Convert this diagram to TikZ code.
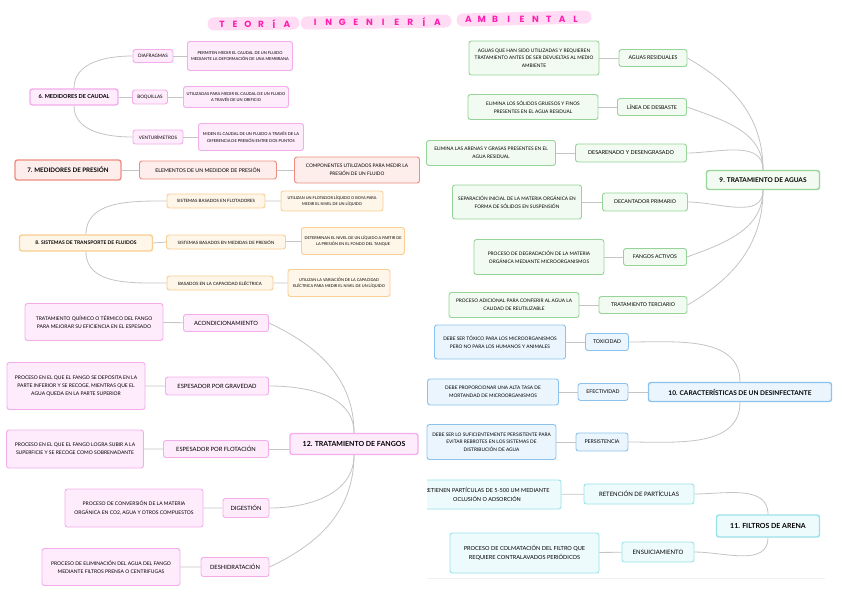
\documentclass[tikz,border=0pt]{standalone}
\usepackage{fontspec}
\setmainfont{Lato}
\newfontfamily\titlefont{Poppins}
\usetikzlibrary{positioning}

\definecolor{linkgray}{HTML}{C4C4C4}
\definecolor{pinkline}{HTML}{F3ADEB}
\definecolor{pinkfill}{HTML}{FEEBFC}
\definecolor{coralline}{HTML}{EE8C82}
\definecolor{coralfill}{HTML}{FDEEEC}
\definecolor{orangeline}{HTML}{F8CE92}
\definecolor{orangefill}{HTML}{FFF6EA}
\definecolor{greenline}{HTML}{96D497}
\definecolor{greenfill}{HTML}{F2FBF2}
\definecolor{blueline}{HTML}{8CC2EE}
\definecolor{bluefill}{HTML}{EBF5FD}
\definecolor{cyanline}{HTML}{98E2EA}
\definecolor{cyanfill}{HTML}{EEFBFC}
\definecolor{titleink}{HTML}{FF1FAE}
\definecolor{titlehl}{HTML}{FFC4EE}

\tikzset{
  box/.style={rounded corners=2.5pt, line width=0.9pt, align=center, inner sep=0pt},
  sz/.style 2 args={minimum width=#1, minimum height=#2},
  ft/.style 2 args={font=\fontsize{#1}{#2}\selectfont},
  ftb/.style 2 args={font=\fontsize{#1}{#2}\selectfont\bfseries},
  rootbox/.style={line width=1.4pt},
  pinkbox/.style={box, draw=pinkline, fill=pinkfill},
  coralbox/.style={box, draw=coralline, fill=coralfill},
  orangebox/.style={box, draw=orangeline, fill=orangefill},
  greenbox/.style={box, draw=greenline, fill=greenfill},
  bluebox/.style={box, draw=blueline, fill=bluefill},
  cyanbox/.style={box, draw=cyanline, fill=cyanfill},
  link/.style={draw=linkgray, line width=0.8pt},
  titlech/.style={text=titleink, font=\titlefont\bfseries\fontsize{9}{9}\selectfont, inner sep=0pt},
  hilite/.style={draw=titlehl, line width=13pt, line cap=round, opacity=0.6}
}

\begin{document}
\begin{tikzpicture}[x=1pt, y=-1pt]
\useasboundingbox[fill=white] (0,0) rectangle (848,599);

\draw[hilite] (214,24) -- (293,23);
\draw[hilite] (307,23) -- (445,21);
\draw[hilite] (463,20) -- (585,17);
\foreach \ch [count=\i] in {T,E,O,R,Í,A}
  \node[titlech] (ta\i) at ({209+13*\i},24) {\ch};
\foreach \ch [count=\i] in {I,N,G,E,N,I,E,R,Í,A}
  \node[titlech] (tb\i) at ({301.5+13.6*\i},22) {\ch};
\foreach \ch [count=\i] in {A,M,B,I,E,N,T,A,L}
  \node[titlech] (tc\i) at ({455+13.4*\i},19) {\ch};

% 6
\node[pinkbox, rootbox, sz={88}{16}, ftb={5.5}{7}] (r6) at (74,97) {6. MEDIDORES DE CAUDAL};
\node[pinkbox, sz={40}{13}, ft={4.6}{6}] (c6a) at (153,56) {DIAFRAGMAS};
\node[pinkbox, sz={105}{29}, ft={4}{6.6}] (d6a) at (240,56) {PERMITEN MEDIR EL CAUDAL DE UN FLUIDO\\MEDIANTE LA DEFORMACIÓN DE UNA MEMBRANA};
\node[pinkbox, sz={35}{14}, ft={4.6}{6}] (c6b) at (150,97) {BOQUILLAS};
\node[pinkbox, sz={105}{21}, ft={4}{6.6}] (d6b) at (236,97) {UTILIZADAS PARA MEDIR EL CAUDAL DE UN FLUIDO\\A TRAVÉS DE UN ORIFICIO};
\node[pinkbox, sz={50}{14}, ft={4.6}{6}] (c6c) at (158,137) {VENTURÍMETROS};
\node[pinkbox, sz={105}{27}, ft={4}{6.6}] (d6c) at (251,137) {MIDEN EL CAUDAL DE UN FLUIDO A TRAVÉS DE LA\\DIFERENCIA DE PRESIÓN ENTRE DOS PUNTOS};
\draw[link] (r6.north) to[out=90, in=180] (c6a.west);
\draw[link] (r6.east) -- (c6b.west);
\draw[link] (r6.south) to[out=-90, in=180] (c6c.west);
\draw[link] (c6a) -- (d6a) (c6b) -- (d6b) (c6c) -- (d6c);

% 7
\node[coralbox, rootbox, sz={106}{20}, ftb={6.2}{8}] (r7) at (68,170) {7. MEDIDORES DE PRESIÓN};
\node[coralbox, sz={137}{18}, ft={5.2}{7}] (c7) at (208,170) {ELEMENTOS DE UN MEDIDOR DE PRESIÓN};
\node[coralbox, sz={125}{26}, ft={4.8}{7.6}] (d7) at (357,170) {COMPONENTES UTILIZADOS PARA MEDIR LA\\PRESIÓN DE UN FLUIDO};
\draw[link] (r7) -- (c7) (c7) -- (d7);

% 8
\node[orangebox, rootbox, sz={133}{16}, ftb={5}{6.5}] (r8) at (86,243) {8. SISTEMAS DE TRANSPORTE DE FLUIDOS};
\node[orangebox, sz={98}{14}, ft={4.4}{6}] (c8a) at (216,201) {SISTEMAS BASADOS EN FLOTADORES};
\node[orangebox, sz={102}{20}, ft={3.9}{6.3}] (d8a) at (332,201) {UTILIZAN UN FLOTADOR LÍQUIDO O BOYA PARA\\MEDIR EL NIVEL DE UN LÍQUIDO};
\node[orangebox, sz={119}{14}, ft={4.4}{6}] (c8b) at (226,242) {SISTEMAS BASADOS EN MEDIDAS DE PRESIÓN};
\node[orangebox, sz={103}{27}, ft={3.9}{6.3}] (d8b) at (353,241) {DETERMINAN EL NIVEL DE UN LÍQUIDO A PARTIR DE\\LA PRESIÓN EN EL FONDO DEL TANQUE};
\node[orangebox, sz={106}{14}, ft={4.4}{6}] (c8c) at (220,283) {BASADOS EN LA CAPACIDAD ELÉCTRICA};
\node[orangebox, sz={102}{27}, ft={3.9}{6.3}] (d8c) at (339,283) {UTILIZAN LA VARIACIÓN DE LA CAPACIDAD\\ELÉCTRICA PARA MEDIR EL NIVEL DE UN LÍQUIDO};
\draw[link] (r8.north) to[out=90, in=180] (c8a.west);
\draw[link] (r8.east) -- (c8b.west);
\draw[link] (r8.south) to[out=-90, in=180] (c8c.west);
\draw[link] (c8a) -- (d8a) (c8b) -- (d8b) (c8c) -- (d8c);

% 12
\node[pinkbox, rootbox, sz={128}{21}, ftb={7}{9}] (r12) at (354,444) {12. TRATAMIENTO DE FANGOS};
\node[pinkbox, sz={85}{17}, ft={5.8}{7.5}] (c12a) at (226,323) {ACONDICIONAMIENTO};
\node[pinkbox, sz={138}{37}, ft={5}{8.2}] (d12a) at (94,322) {TRATAMIENTO QUÍMICO O TÉRMICO DEL FANGO\\PARA MEJORAR SU EFICIENCIA EN EL ESPESADO};
\node[pinkbox, sz={103}{18}, ft={5.8}{7.5}] (c12b) at (217,386) {ESPESADOR POR GRAVEDAD};
\node[pinkbox, sz={138}{47}, ft={5}{8.2}] (d12b) at (76,386) {PROCESO EN EL QUE EL FANGO SE DEPOSITA EN LA\\PARTE INFERIOR Y SE RECOGE, MIENTRAS QUE EL\\AGUA QUEDA EN LA PARTE SUPERIOR};
\node[pinkbox, sz={105}{17}, ft={5.8}{7.5}] (c12c) at (216,449) {ESPESADOR POR FLOTACIÓN};
\node[pinkbox, sz={137}{38}, ft={5}{8.2}] (d12c) at (75,449) {PROCESO EN EL QUE EL FANGO LOGRA SUBIR A LA\\SUPERFICIE Y SE RECOGE COMO SOBRENADANTE};
\node[pinkbox, sz={46}{19}, ft={5.8}{7.5}] (c12d) at (246,508) {DIGESTIÓN};
\node[pinkbox, sz={138}{38}, ft={5}{8.2}] (d12d) at (134,508) {PROCESO DE CONVERSIÓN DE LA MATERIA\\ORGÁNICA EN CO2, AGUA Y OTROS COMPUESTOS};
\node[pinkbox, sz={68}{19}, ft={5.8}{7.5}] (c12e) at (235,567) {DESHIDRATACIÓN};
\node[pinkbox, sz={138}{37}, ft={5}{8.2}] (d12e) at (111,567) {PROCESO DE ELIMINACIÓN DEL AGUA DEL FANGO\\MEDIANTE FILTROS PRENSA O CENTRIFUGAS};
\draw[link] (r12.north) to[out=90, in=-25] (c12a.east);
\draw[link] (r12.north) to[out=90, in=0] (c12b.east);
\draw[link] (c12c.east) -- (c12c.east -| r12.west);
\draw[link] (r12.south) to[out=-90, in=0] (c12d.east);
\draw[link] (r12.south) to[out=-90, in=25] (c12e.east);
\draw[link] (d12a) -- (c12a) (d12b) -- (c12b) (d12c) -- (c12c) (d12d) -- (c12d) (d12e) -- (c12e);

% 9
\node[greenbox, rootbox, sz={113}{19}, ftb={6.5}{8}] (r9) at (763,180) {9. TRATAMIENTO DE AGUAS};
\node[greenbox, sz={68}{17}, ft={5.2}{7}] (c9a) at (653,58) {AGUAS RESIDUALES};
\node[greenbox, sz={130}{34}, ft={4.8}{7.7}] (d9a) at (534,58) {AGUAS QUE HAN SIDO UTILIZADAS Y REQUIEREN\\TRATAMIENTO ANTES DE SER DEVUELTAS AL MEDIO\\AMBIENTE};
\node[greenbox, sz={69}{17}, ft={5.2}{7}] (c9b) at (652,107) {LÍNEA DE DESBASTE};
\node[greenbox, sz={130}{25}, ft={4.8}{7.7}] (d9b) at (533,107) {ELIMINA LOS SÓLIDOS GRUESOS Y FINOS\\PRESENTES EN EL AGUA RESIDUAL};
\node[greenbox, sz={111}{18}, ft={5.4}{7}] (c9c) at (631,153) {DESARENADO Y DESENGRASADO};
\node[greenbox, sz={129}{25}, ft={4.8}{7.7}] (d9c) at (491,153) {ELIMINA LAS ARENAS Y GRASAS PRESENTES EN EL\\AGUA RESIDUAL};
\node[greenbox, sz={85}{18}, ft={5.2}{7}] (c9d) at (645,202) {DECANTADOR PRIMARIO};
\node[greenbox, sz={129}{34}, ft={4.8}{7.7}] (d9d) at (517,202) {SEPARACIÓN INICIAL DE LA MATERIA ORGÁNICA EN\\FORMA DE SÓLIDOS EN SUSPENSIÓN};
\node[greenbox, sz={63}{17}, ft={5.2}{7}] (c9e) at (655,257) {FANGOS ACTIVOS};
\node[greenbox, sz={130}{35}, ft={4.8}{7.7}] (d9e) at (539,257) {PROCESO DE DEGRADACIÓN DE LA MATERIA\\ORGÁNICA MEDIANTE MICROORGANISMOS};
\node[greenbox, sz={88}{17}, ft={5.2}{7}] (c9f) at (643,305) {TRATAMIENTO TERCIARIO};
\node[greenbox, sz={130}{25}, ft={4.8}{7.7}] (d9f) at (514,305) {PROCESO ADICIONAL PARA CONFERIR AL AGUA LA\\CALIDAD DE REUTILIZABLE};
\draw[link] (r9.north) to[out=90, in=-30] (c9a.east);
\draw[link] (r9.north) to[out=90, in=-20] (c9b.east);
\draw[link] (r9.north) to[out=90, in=0] (c9c.east);
\draw[link] (r9.south) to[out=-90, in=0] (c9d.east);
\draw[link] (r9.south) to[out=-90, in=20] (c9e.east);
\draw[link] (r9.south) to[out=-90, in=30] (c9f.east);
\draw[link] (d9a) -- (c9a) (d9b) -- (c9b) (d9c) -- (c9c) (d9d) -- (c9d) (d9e) -- (c9e) (d9f) -- (c9f);

% 10
\node[bluebox, rootbox, sz={183}{19}, ftb={6.5}{8}] (r10) at (740,392) {10. CARACTERÍSTICAS DE UN DESINFECTANTE};
\node[bluebox, sz={43}{17}, ft={5.2}{7}] (c10a) at (607,342) {TOXICIDAD};
\node[bluebox, sz={131}{34}, ft={4.8}{7.7}] (d10a) at (500,342) {DEBE SER TÓXICO PARA LOS MICROORGANISMOS\\PERO NO PARA LOS HUMANOS Y ANIMALES};
\node[bluebox, sz={50}{17}, ft={5.2}{7}] (c10b) at (603,392) {EFECTIVIDAD};
\node[bluebox, sz={131}{26}, ft={4.8}{7.7}] (d10b) at (493,392) {DEBE PROPORCIONAR UNA ALTA TASA DE\\MORTANDAD DE MICROORGANISMOS};
\node[bluebox, sz={52}{18}, ft={5.2}{7}] (c10c) at (602,442) {PERSISTENCIA};
\node[bluebox, sz={129}{35}, ft={4.8}{7.7}] (d10c) at (491.5,442) {DEBE SER LO SUFICIENTEMENTE PERSISTENTE PARA\\EVITAR REBROTES EN LOS SISTEMAS DE\\DISTRIBUCIÓN DE AGUA};
\draw[link] (r10.north) to[out=90, in=0] (c10a.east);
\draw[link] (r10.west) -- (c10b.east);
\draw[link] (r10.south) to[out=-90, in=0] (c10c.east);
\draw[link] (d10a) -- (c10a) (d10b) -- (c10b) (d10c) -- (c10c);

% 11
\node[cyanbox, rootbox, sz={103}{22}, ftb={7}{9}] (r11) at (768,526) {11. FILTROS DE ARENA};
\node[cyanbox, sz={110}{20}, ft={6}{8}] (c11a) at (639,494) {RETENCIÓN DE PARTÍCULAS};
\begin{scope}
\clip (427,470) rectangle (575,520);
\node[cyanbox, sz={148}{29}, ft={5.5}{8.6}] (d11a) at (487,494.5) {RETIENEN PARTÍCULAS DE 5-500 UM MEDIANTE\\OCLUSIÓN O ADSORCIÓN};
\end{scope}
\node[cyanbox, sz={72}{20}, ft={6}{8}] (c11b) at (658,552) {ENSUICIAMIENTO};
\node[cyanbox, sz={149}{40}, ft={5.6}{8.8}] (d11b) at (524.5,553) {PROCESO DE COLMATACIÓN DEL FILTRO QUE\\REQUIERE CONTRALAVADOS PERIÓDICOS};
\draw[link] (r11.north) to[out=90, in=0] (c11a.east);
\draw[link] (r11.south) to[out=-90, in=0] (c11b.east);
\draw[link] (d11a) -- (c11a) (d11b) -- (c11b);

\draw[draw=gray!12, line width=0.6pt] (427,578) -- (825,578);
\end{tikzpicture}
\end{document}
